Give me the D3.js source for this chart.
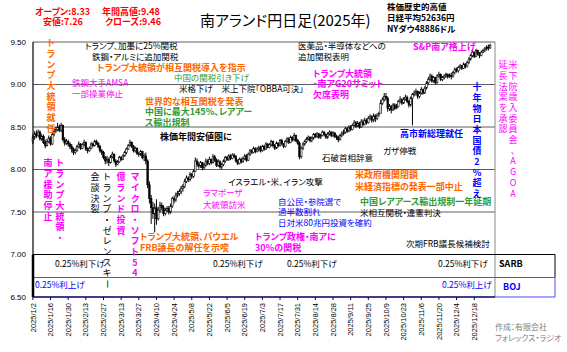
<!DOCTYPE html>
<html>
<head>
<meta charset="utf-8">
<script src="https://cdn.jsdelivr.net/npm/d3@7"></script>
<style>
  body { margin: 0; background: #fff; }
  svg text { font-family: "Noto Sans CJK JP", sans-serif; font-feature-settings: "palt" 1; }
</style>
</head>
<body>
<svg id="chart" width="567" height="352"></svg>
<script>
// 南アランド円 日足 2025年 (営業日ごと、月ごとに改行)
var closes = [
  8.38,8.42,8.40,8.44,8.36,8.39,8.32,8.28,8.33,8.37,8.30,8.41,8.45,8.47,8.50,8.46,8.52,8.35,8.31,8.33,8.30,8.27,
  8.24,8.20,8.22,8.27,8.30,8.25,8.29,8.32,8.24,8.22,8.25,8.30,8.28,8.33,8.31,8.27,8.22,8.20,8.14,8.10,
  8.12,8.08,8.15,8.18,8.10,8.06,8.09,8.14,8.12,8.16,8.20,8.24,8.28,8.32,8.27,8.22,8.25,8.19,8.18,8.21,8.14,
  8.16,8.10,7.82,7.66,7.55,7.48,7.55,7.42,7.52,7.58,7.55,7.48,7.52,7.54,7.50,7.57,7.66,7.64,7.70,7.72,7.74,7.78,
  7.80,7.86,7.90,7.88,7.94,7.92,7.98,8.10,8.06,8.04,8.08,8.02,8.05,8.10,8.07,8.12,8.08,8.15,8.11,8.05,8.09,8.03,
  8.06,8.10,8.14,8.12,8.16,8.13,8.17,8.15,8.10,8.07,8.12,8.09,8.13,8.16,8.11,8.18,8.22,8.20,8.25,8.21,8.24,
  8.26,8.22,8.27,8.24,8.30,8.26,8.29,8.33,8.28,8.25,8.31,8.28,8.34,8.30,8.27,8.33,8.36,8.32,8.38,8.35,8.40,8.34,8.31,
  8.15,8.25,8.30,8.33,8.36,8.38,8.34,8.37,8.41,8.39,8.42,8.38,8.40,8.44,8.41,8.38,8.42,8.44,8.40,8.43,8.39,
  8.38,8.35,8.40,8.42,8.44,8.48,8.45,8.50,8.47,8.52,8.55,8.51,8.54,8.50,8.56,8.53,8.58,8.55,8.60,8.62,8.58,8.63,
  8.60,8.64,8.66,8.78,8.82,8.86,8.84,8.72,8.74,8.70,8.76,8.72,8.74,8.80,8.82,8.78,8.83,8.85,8.80,8.76,8.84,8.88,8.90,
  8.92,8.86,8.90,8.94,8.90,8.96,9.02,9.06,9.10,9.04,9.08,9.02,9.10,9.12,9.06,9.08,9.10,9.12,9.09,9.11,
  9.10,9.14,9.18,9.16,9.20,9.22,9.19,9.24,9.21,9.26,9.30,9.34,9.38,9.33,9.40,9.36,9.34,9.38,9.40,9.42,9.44,9.43,9.46
];
var highs = [
  8.41,8.45,8.46,8.47,8.46,8.42,8.41,8.35,8.36,8.40,8.39,8.43,8.48,8.50,8.55,8.53,8.55,8.53,8.38,8.36,8.35,8.32,
  8.30,8.26,8.25,8.29,8.33,8.31,8.31,8.35,8.33,8.26,8.27,8.32,8.32,8.35,8.35,8.32,8.29,8.24,8.22,8.16,
  8.16,8.14,8.17,8.21,8.19,8.12,8.11,8.16,8.16,8.18,8.22,8.26,8.30,8.35,8.33,8.29,8.27,8.26,8.21,8.23,8.22,
  8.19,8.20,8.12,7.86,7.70,7.62,7.60,7.65,7.56,7.62,7.61,7.58,7.55,7.57,7.57,7.60,7.68,7.69,7.73,7.75,7.77,7.81,
  7.83,7.89,7.93,7.92,7.97,7.96,8.00,8.14,8.13,8.09,8.10,8.09,8.08,8.13,8.12,8.15,8.13,8.18,8.17,8.13,8.12,8.11,
  8.08,8.12,8.16,8.16,8.18,8.18,8.19,8.19,8.17,8.12,8.14,8.14,8.15,8.18,8.18,8.20,8.24,8.24,8.27,8.26,8.26,
  8.28,8.28,8.29,8.29,8.32,8.31,8.31,8.35,8.34,8.30,8.33,8.32,8.36,8.36,8.31,8.35,8.38,8.38,8.40,8.39,8.43,8.41,8.36,
  8.33,8.27,8.32,8.35,8.38,8.40,8.39,8.39,8.43,8.43,8.44,8.43,8.42,8.46,8.45,8.42,8.44,8.46,8.45,8.45,8.44,
  8.41,8.40,8.42,8.45,8.47,8.50,8.50,8.52,8.52,8.54,8.58,8.57,8.57,8.56,8.59,8.59,8.61,8.60,8.63,8.65,8.64,8.66,
  8.65,8.66,8.68,8.82,8.85,8.90,8.90,8.86,8.77,8.76,8.78,8.78,8.77,8.82,8.86,8.84,8.85,8.88,8.87,8.82,8.86,8.90,8.93,
  8.95,8.93,8.92,8.97,8.95,8.98,9.04,9.09,9.13,9.12,9.10,9.09,9.12,9.15,9.13,9.10,9.12,9.14,9.13,9.13,
  9.14,9.16,9.20,9.20,9.22,9.24,9.23,9.26,9.25,9.28,9.32,9.36,9.40,9.39,9.42,9.41,9.38,9.40,9.42,9.44,9.46,9.47,9.48
];
var lows = [
  8.30,8.35,8.37,8.38,8.34,8.34,8.30,8.25,8.27,8.31,8.28,8.29,8.39,8.43,8.45,8.44,8.44,8.33,8.28,8.29,8.27,8.24,
  8.20,8.17,8.18,8.21,8.25,8.23,8.24,8.27,8.22,8.19,8.21,8.24,8.26,8.27,8.29,8.25,8.20,8.17,8.12,8.06,
  8.07,8.04,8.07,8.13,8.08,8.03,8.05,8.08,8.10,8.11,8.15,8.18,8.23,8.27,8.25,8.20,8.20,8.17,8.15,8.16,8.12,
  8.10,8.06,7.78,7.60,7.36,7.42,7.26,7.35,7.40,7.49,7.52,7.45,7.46,7.50,7.47,7.48,7.55,7.60,7.62,7.67,7.69,7.71,
  7.74,7.78,7.84,7.85,7.86,7.89,7.90,7.97,8.03,8.01,8.02,7.99,8.00,8.03,8.05,8.05,8.06,8.07,8.09,8.03,8.03,8.01,
  8.00,8.04,8.08,8.10,8.10,8.11,8.12,8.13,8.08,8.05,8.06,8.07,8.08,8.11,8.09,8.10,8.16,8.18,8.19,8.19,8.20,
  8.21,8.20,8.21,8.22,8.23,8.25,8.25,8.27,8.26,8.23,8.24,8.26,8.27,8.29,8.25,8.26,8.31,8.30,8.31,8.33,8.33,8.32,8.29,
  8.12,8.13,8.23,8.28,8.31,8.34,8.32,8.32,8.35,8.37,8.37,8.36,8.36,8.39,8.39,8.36,8.36,8.40,8.38,8.38,8.37,
  8.35,8.32,8.34,8.38,8.40,8.42,8.43,8.44,8.45,8.46,8.50,8.49,8.50,8.48,8.49,8.51,8.52,8.53,8.54,8.58,8.55,8.56,
  8.56,8.58,8.62,8.68,8.76,8.80,8.81,8.68,8.69,8.66,8.69,8.70,8.71,8.73,8.78,8.76,8.77,8.81,8.78,8.73,8.74,8.52,8.86,
  8.87,8.83,8.84,8.88,8.88,8.89,8.94,9.00,9.04,9.02,9.02,9.00,9.01,9.08,9.04,9.04,9.06,9.08,9.07,9.08,
  9.06,9.08,9.12,9.14,9.14,9.18,9.17,9.18,9.19,9.20,9.24,9.28,9.32,9.31,9.32,9.34,9.31,9.33,9.37,9.38,9.40,9.40,9.42
];
var firstOpen = 8.33;

var tickLabels = ["2025/1/2","2025/1/16","2025/1/30","2025/2/13","2025/2/27","2025/3/13","2025/3/27",
  "2025/4/10","2025/4/24","2025/5/8","2025/5/22","2025/6/5","2025/6/19","2025/7/3","2025/7/17",
  "2025/7/31","2025/8/14","2025/8/28","2025/9/11","2025/9/25","2025/10/9","2025/10/23","2025/11/6",
  "2025/11/20","2025/12/4","2025/12/18"];
var yTicks = [6.5, 7, 7.5, 8, 8.5, 9, 9.5];

var colors = { k: "#000000", o: "#ff6600", g: "#339933", m: "#ff00ff", b: "#0000ff", r: "#ff0000" };

// 横書きの注記 [x, y, 文字, 色, 太字]
var notes = [
  [85, 46, "トランプ、加墨に25%関税", "k", 0],
  [92, 57, "鉄鋼・アルミに追加関税", "k", 0],
  [97, 68, "トランプ大統領が相互関税導入を指示", "o", 1],
  [174, 78, "中国の関税引き下げ", "g", 0],
  [179, 89, "米格下げ　米上下院「OBBA可決」", "k", 0],
  [72, 83, "鉄鋼大手AMSA", "m", 0],
  [72, 94, "一部操業停止", "m", 0],
  [145, 102, "世界的な相互関税を発表", "o", 1],
  [145, 112, "中国に最大145%、レアアー", "g", 1],
  [145, 123, "ス輸出規制", "g", 1],
  [160, 137, "株価年間安値圏に", "k", 1],
  [298, 46, "医薬品・半導体などへの", "k", 0],
  [298, 57, "追加関税表明", "k", 0],
  [313, 74, "トランプ大統領", "m", 1],
  [313, 84, "・南アG20サミット", "m", 1],
  [313, 95, "欠席表明", "m", 1],
  [413, 47, "S&P南ア格上げ", "m", 1],
  [400, 134, "高市新総理就任", "b", 1],
  [383, 151, "ガザ停戦", "k", 0],
  [322, 158, "石破首相辞意", "k", 0],
  [228, 182, "イスラエル・米、イラン攻撃", "k", 0],
  [355, 175, "米政府機関閉鎖", "o", 1],
  [355, 187, "米経済指標の発表一部中止", "o", 1],
  [203, 193, "ラマポーザ", "m", 0],
  [203, 205, "大統領訪米", "m", 0],
  [278, 202, "自公民・参院選で", "b", 0],
  [278, 212, "過半数割れ", "b", 0],
  [278, 223, "日対米80兆円投資を確約", "b", 0],
  [360, 202, "中国レアアース輸出規制一年延期", "g", 1],
  [360, 213, "米相互関税・違憲判決", "k", 0],
  [140, 237, "トランプ大統領、パウエル", "o", 1],
  [140, 248, "FRB議長の解任を示唆", "o", 1],
  [255, 237, "トランプ政権・南アに", "m", 1],
  [255, 248, "30%の関税", "m", 1],
  [406, 244, "次期FRB議長候補検討", "k", 0],
  [55, 264, "0.25%利下げ", "k", 0],
  [213, 264, "0.25%利下げ", "k", 0],
  [287, 264, "0.25%利下げ", "k", 0],
  [438, 264, "0.25%利下げ", "k", 0],
  [35, 285, "0.25%利上げ", "b", 0],
  [442, 285, "0.25%利上げ", "b", 0]
];

// 縦書きの注記 [x, 1文字目の中心y, 文字, 色, 太字]
var vnotes = [
  [51, 43, "トランプ大統領就任", "o", 1],
  [60, 163, "トランプ大統領・", "m", 1],
  [48, 163, "南ア援助停止", "m", 1],
  [107, 177, "トランプ・ゼレンスキー", "k", 0],
  [95, 177, "会談決裂", "k", 0],
  [135, 177, "マイクロ・ソフト54", "m", 1],
  [121, 177, "億ランド投資", "m", 1],
  [477, 87, "十年物日本国債2%超え", "b", 1],
  [513, 65, "米下院歳入委員会、AGOA", "m", 0],
  [503, 65, "延長法案を承認", "m", 0]
];

var svg = d3.select("#chart");

var parse = d3.timeParse("%Y/%-m/%-d");
var fmt = d3.timeFormat("%Y/%-m/%-d");
var dates = d3.timeDays(new Date(2025, 0, 2), new Date(2026, 0, 1))
  .filter(function (d) { return d.getDay() != 0 && d.getDay() != 6; });

var data = dates.map(function (d, i) {
  var o = i == 0 ? firstOpen : closes[i - 1];
  var c = closes[i];
  return { date: d, open: o, close: c,
           high: Math.max(highs[i], o, c), low: Math.min(lows[i], o, c) };
});

var x = d3.scaleBand().domain(dates).range([32, 491]);
var y = d3.scaleLinear().domain([6.5, 9.5]).range([297, 42]);
var left = 33, right = 495, boxRight = 555;

// グリッド
svg.append("g").selectAll("line")
  .data(yTicks.filter(function (d) { return d > 7; }))
  .enter().append("line")
  .attr("x1", left).attr("x2", right)
  .attr("y1", function (d) { return y(d); }).attr("y2", function (d) { return y(d); })
  .attr("stroke", "#5e5e5e").attr("stroke-width", 1);

svg.append("line").attr("x1", right).attr("x2", right).attr("y1", y(9.5)).attr("y2", y(6.5))
  .attr("stroke", "#8a8a8a");

// 下段 SARB / BOJ
var midY = y(7) + 23;
svg.append("line").attr("x1", left).attr("x2", boxRight).attr("y1", y(7)).attr("y2", y(7))
  .attr("stroke", "#000").attr("stroke-width", 1.2);
svg.append("line").attr("x1", boxRight).attr("x2", boxRight).attr("y1", y(7)).attr("y2", midY)
  .attr("stroke", "#000");
svg.append("line").attr("x1", left).attr("x2", boxRight).attr("y1", midY).attr("y2", midY)
  .attr("stroke", "#4d4dff").attr("stroke-width", 1.2);
svg.append("line").attr("x1", boxRight).attr("x2", boxRight).attr("y1", midY).attr("y2", y(6.5))
  .attr("stroke", "#4d4dff");
svg.append("line").attr("x1", right).attr("x2", boxRight).attr("y1", y(6.5)).attr("y2", y(6.5))
  .attr("stroke", "#4d4dff").attr("stroke-width", 1.2);

svg.append("text").attr("x", 499).attr("y", y(7) + 12).attr("font-size", 9).attr("font-weight", "bold")
  .text("SARB");
svg.append("text").attr("x", 503).attr("y", midY + 12).attr("font-size", 9).attr("font-weight", "bold")
  .attr("fill", "#0000ff").text("BOJ");

// ローソク足
var candles = svg.append("g");
candles.selectAll("line")
  .data(data).enter().append("line")
  .attr("x1", function (d) { return x(d.date) + x.bandwidth() / 2; })
  .attr("x2", function (d) { return x(d.date) + x.bandwidth() / 2; })
  .attr("y1", function (d) { return y(d.high); })
  .attr("y2", function (d) { return y(d.low); })
  .attr("stroke", "#000").attr("stroke-width", 1);
candles.selectAll("rect")
  .data(data).enter().append("rect")
  .attr("x", function (d) { return x(d.date) + x.bandwidth() / 2 - 0.8; })
  .attr("width", 1.6)
  .attr("y", function (d) { return y(Math.max(d.open, d.close)); })
  .attr("height", function (d) { return Math.max(1, Math.abs(y(d.open) - y(d.close))); })
  .attr("fill", function (d) { return d.close >= d.open ? "#fff" : "#000"; })
  .attr("stroke", "#000").attr("stroke-width", 0.6);

// 軸
svg.append("line").attr("x1", left).attr("x2", left).attr("y1", y(9.5)).attr("y2", y(6.5))
  .attr("stroke", "#000").attr("stroke-width", 1.2);
svg.append("line").attr("x1", left).attr("x2", left).attr("y1", y(7)).attr("y2", y(6.5))
  .attr("stroke", "#000").attr("stroke-width", 2.5);
svg.append("line").attr("x1", left).attr("x2", right).attr("y1", y(6.5)).attr("y2", y(6.5))
  .attr("stroke", "#000060").attr("stroke-width", 1.5);

svg.append("g").selectAll("text")
  .data(yTicks).enter().append("text")
  .attr("x", 26).attr("y", function (d) { return y(d); }).attr("dy", "0.35em")
  .attr("text-anchor", "end")
  .style("font-family", "'Liberation Sans', Arial, sans-serif")
  .attr("font-size", 8)
  .text(d3.format(".2f"));

var xAxis = svg.append("g")
  .attr("transform", "translate(0," + y(6.5) + ")")
  .call(d3.axisBottom(x).tickValues(tickLabels.map(parse).map(function (t) {
      return dates.find(function (d) { return +d == +t; });
    })).tickFormat(fmt).tickSize(3));
xAxis.select(".domain").remove();
xAxis.selectAll("line").attr("stroke", "#000060");
xAxis.selectAll("text")
  .attr("transform", "rotate(-90)")
  .attr("text-anchor", "end")
  .attr("x", -6).attr("y", 0).attr("dy", "0.35em")
  .style("font-family", "'Liberation Sans', Arial, sans-serif")
  .attr("font-size", 7.5).attr("fill", "#000");

// 注記
svg.append("g").selectAll("text")
  .data(notes).enter().append("text")
  .attr("x", function (d) { return d[0]; })
  .attr("y", function (d) { return d[1]; })
  .attr("dy", "0.35em")
  .attr("font-size", function (d) { return d[4] ? 9 : 8.5; })
  .attr("font-weight", function (d) { return d[4] ? "bold" : "normal"; })
  .attr("fill", function (d) { return colors[d[3]]; })
  .text(function (d) { return d[2]; });

// 縦書き（1文字ずつ）
vnotes.forEach(function (v) {
  var chars = Array.from(v[2]);
  var step = 10.7;
  svg.append("g").selectAll("text")
    .data(chars).enter().append("text")
    .attr("x", v[0])
    .attr("y", function (c, i) { return v[1] + i * step; })
    .attr("dy", "0.35em")
    .attr("text-anchor", "middle")
    .attr("font-size", 9)
    .attr("font-weight", v[4] ? "bold" : "normal")
    .attr("fill", colors[v[3]])
    .attr("transform", function (c, i) {
      return c == "ー" ? "rotate(90," + v[0] + "," + (v[1] + i * step) + ")" : null;
    })
    .text(function (c) { return c; });
});

// 見出し
svg.append("text").attr("x", 200).attr("y", 21).attr("dy", "0.35em").attr("font-size", 15)
  .text("南アランド円日足(2025年)");

var head = [
  [35, 12, "オープン:8.33"], [102, 12, "年間高値:9.48"],
  [43, 22, "安値:7.26"], [105, 22, "クローズ:9.46"]
];
svg.append("g").selectAll("text")
  .data(head).enter().append("text")
  .attr("x", function (d) { return d[0]; }).attr("y", function (d) { return d[1]; })
  .attr("dy", "0.35em").attr("font-size", 9).attr("font-weight", "bold").attr("fill", colors.r)
  .text(function (d) { return d[2]; });

var record = ["株価歴史的高値", "日経平均52636円", "NYダウ48886ドル"];
svg.append("g").selectAll("text")
  .data(record).enter().append("text")
  .attr("x", 387).attr("y", function (d, i) { return 7 + i * 11; })
  .attr("dy", "0.35em").attr("font-size", 8.5).attr("font-weight", "bold")
  .text(function (d) { return d; });

svg.append("text").attr("x", 495).attr("y", 327).attr("dy", "0.35em").attr("font-size", 8)
  .attr("fill", "#808080").text("作成：有限会社");
svg.append("text").attr("x", 495).attr("y", 338).attr("dy", "0.35em").attr("font-size", 8)
  .attr("fill", "#808080").text("フォレックス・ラジオ");
</script>
</body>
</html>
